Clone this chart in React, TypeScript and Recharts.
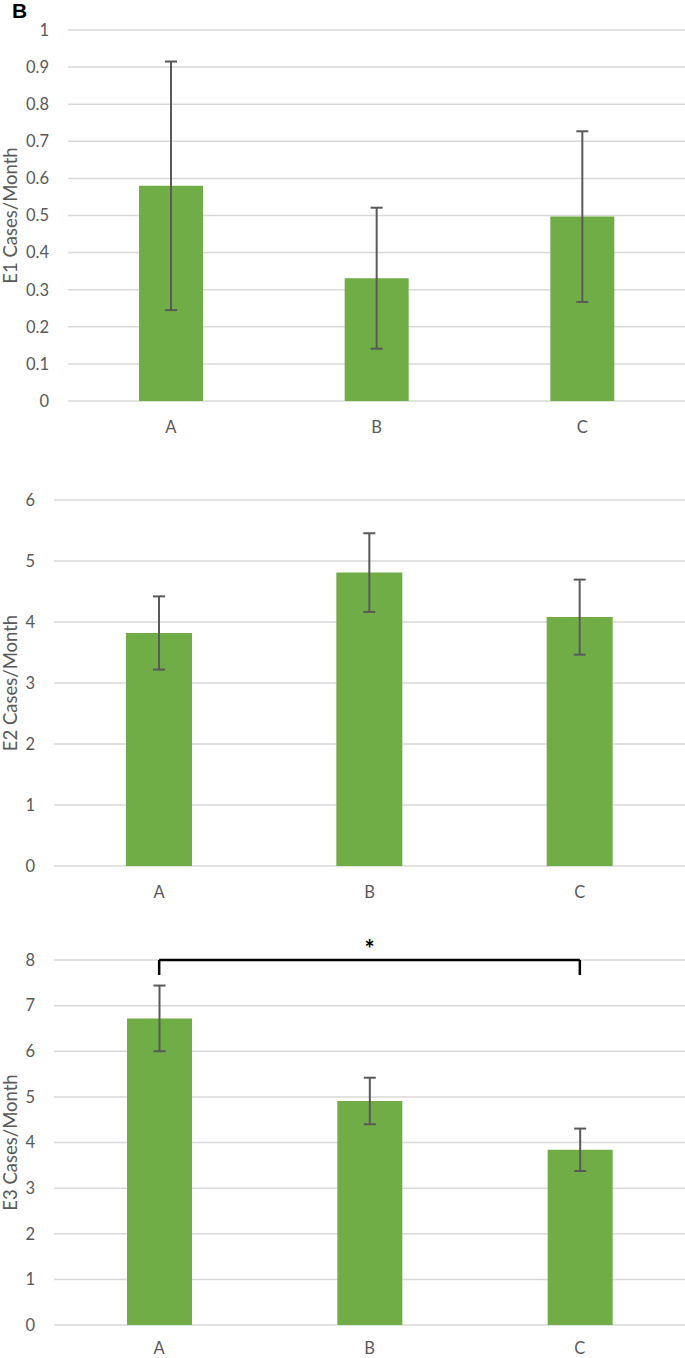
import React from 'react';
import { BarChart, Bar, XAxis, YAxis, CartesianGrid, ErrorBar, ReferenceLine } from 'recharts';

const CATEGORIES = ['A', 'B', 'C'];

const E1_MEANS = [0.58, 0.331, 0.497];
const E1_ERRORS = [0.335, 0.19, 0.23];
const E1_TICKS = [0, 0.1, 0.2, 0.3, 0.4, 0.5, 0.6, 0.7, 0.8, 0.9, 1];

const E2_MEANS = [3.82, 4.81, 4.08];
const E2_ERRORS = [0.6, 0.645, 0.615];
const E2_TICKS = [0, 1, 2, 3, 4, 5, 6];

const E3_MEANS = [6.72, 4.91, 3.84];
const E3_ERRORS = [0.72, 0.51, 0.465];
const E3_TICKS = [0, 1, 2, 3, 4, 5, 6, 7, 8];

const SIG_FROM = 'A';
const SIG_TO = 'C';
const SIG_LEVEL = 8;
const SIG_DROP = 7.67;
const SIG_LABEL = '*';

const build = (means: number[], errs: number[]) =>
  CATEGORIES.map((c, i) => ({ cat: c, mean: means[i], err: errs[i] }));

const FONT = 'Lato, "Open Sans", sans-serif';
const TEXT = '#595959';
const GRID = '#d9d9d9';
const GREEN = '#70ad47';

const yLabel = (text: string) => (props: any) => {
  const vb = props.viewBox || {};
  const x = 10;
  const cy = vb.y + vb.height / 2;
  return (
    <text
      x={x}
      y={cy}
      transform={`rotate(-90 ${x} ${cy})`}
      textAnchor="middle"
      dominantBaseline="central"
      fill={TEXT}
      fontSize={18.5}
      fontFamily={FONT}
    >
      {text}
    </text>
  );
};

type PanelProps = {
  data: any[];
  ticks: number[];
  label: string;
  top: number;
  height: number;
  marginTop: number;
  xHeight: number;
  xMargin: number;
  yWidth: number;
  barSize: number;
  children?: React.ReactNode;
};

const Panel = ({ data, ticks, label, top, height, marginTop, xHeight, xMargin, yWidth, barSize, children }: PanelProps) => (
  <div style={{ position: 'absolute', left: 0, top }}>
    <BarChart
      width={685}
      height={height}
      data={data}
      margin={{ top: marginTop, right: 0, bottom: 0, left: 0 }}
    >
      <CartesianGrid vertical={false} stroke={GRID} strokeWidth={1.5} />
      <XAxis
        dataKey="cat"
        axisLine={false}
        tickLine={false}
        tickSize={0}
        tickMargin={xMargin}
        height={xHeight}
        tick={{ fill: TEXT, fontSize: 16.5, fontFamily: FONT }}
      />
      <YAxis
        width={yWidth}
        domain={[ticks[0], ticks[ticks.length - 1]]}
        ticks={ticks}
        interval={0}
        axisLine={false}
        tickLine={false}
        tickSize={0}
        tickMargin={19}
        tick={{ fill: TEXT, fontSize: 16.5, fontFamily: FONT }}
        label={yLabel(label)}
      />
      <Bar dataKey="mean" fill={GREEN} barSize={barSize} isAnimationActive={false}>
        <ErrorBar dataKey="err" direction="y" stroke="#595959" strokeWidth={2} width={6} isAnimationActive={false} />
      </Bar>
      {children}
    </BarChart>
  </div>
);

export default function App() {
  return (
    <div style={{ position: 'absolute', left: 0, top: 0, width: 685, height: 1358, background: '#fff', overflow: 'hidden' }}>
      <div
        style={{
          position: 'absolute',
          left: 12,
          top: 0,
          fontFamily: '"Liberation Sans", Arial, sans-serif',
          fontWeight: 'bold',
          fontSize: 21,
          lineHeight: '21px',
          color: '#000',
        }}
      >
        B
      </div>
      <Panel
        data={build(E1_MEANS, E1_ERRORS)}
        ticks={E1_TICKS}
        label="E1 Cases/Month"
        top={10}
        height={431}
        marginTop={20}
        xHeight={40}
        xMargin={20}
        yWidth={68}
        barSize={64}
      />
      <Panel
        data={build(E2_MEANS, E2_ERRORS)}
        ticks={E2_TICKS}
        label="E2 Cases/Month"
        top={480}
        height={426}
        marginTop={20}
        xHeight={40}
        xMargin={20}
        yWidth={54}
        barSize={66}
      />
      <Panel
        data={build(E3_MEANS, E3_ERRORS)}
        ticks={E3_TICKS}
        label="E3 Cases/Month"
        top={920}
        height={438}
        marginTop={40}
        xHeight={33}
        xMargin={17}
        yWidth={54}
        barSize={65}
      >
        <ReferenceLine
          segment={[{ x: SIG_FROM, y: SIG_LEVEL }, { x: SIG_TO, y: SIG_LEVEL }]}
          stroke="#000"
          strokeWidth={2.5}
          ifOverflow="visible"
          label={{ value: SIG_LABEL, position: 'top', fill: '#000', fontSize: 24, fontWeight: 'bold', fontFamily: FONT, offset: 2 }}
        />
        <ReferenceLine
          segment={[{ x: SIG_FROM, y: SIG_LEVEL }, { x: SIG_FROM, y: SIG_DROP }]}
          stroke="#000"
          strokeWidth={2.5}
          ifOverflow="visible"
        />
        <ReferenceLine
          segment={[{ x: SIG_TO, y: SIG_LEVEL }, { x: SIG_TO, y: SIG_DROP }]}
          stroke="#000"
          strokeWidth={2.5}
          ifOverflow="visible"
        />
      </Panel>
    </div>
  );
}
